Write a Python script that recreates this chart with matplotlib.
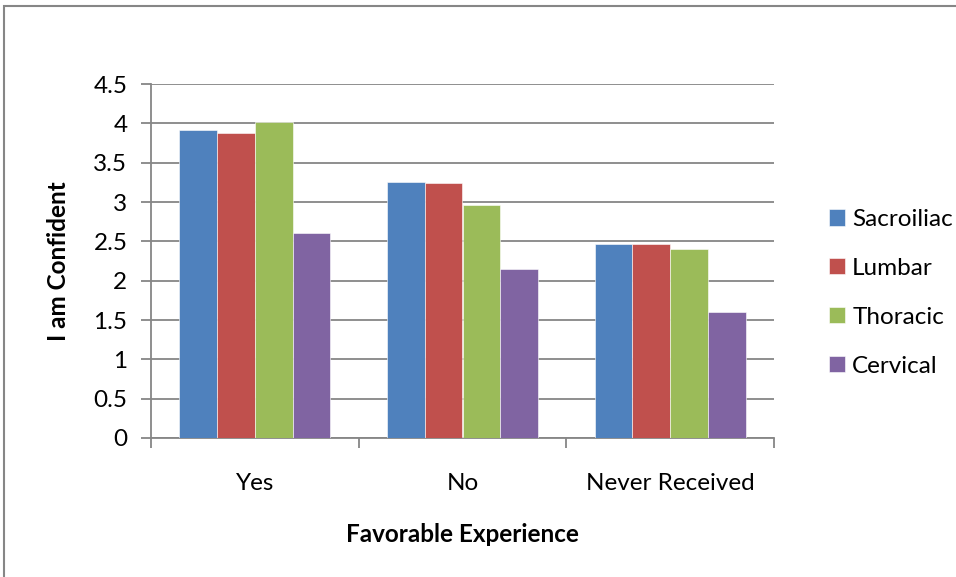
import matplotlib
matplotlib.use("Agg")
from matplotlib import pyplot as plt
from matplotlib.patches import Rectangle
import numpy as np

plt.rcParams['font.family'] = ['Lato', 'DejaVu Sans']

groups = ["Yes", "No", "Never Received"]
regions = ["Sacroiliac", "Lumbar", "Thoracic", "Cervical"]
sacroiliac = [3.92, 3.25, 2.46]
lumbar = [3.88, 3.24, 2.46]
thoracic = [4.02, 2.96, 2.40]
cervical = [2.61, 2.15, 1.60]
colors = ["#4F81BD", "#C0504D", "#9BBB59", "#8064A2"]

series = [sacroiliac, lumbar, thoracic, cervical]
grey = "#868686"
fs = 17.5

fig = plt.figure(figsize=(9.56, 5.77), dpi=100)
# chart frame, running off the right and bottom edges
fig.patches.append(Rectangle((4 / 956, -0.05), 1.1, 1 - 6 / 577 + 0.05,
                             transform=fig.transFigure, fill=False,
                             edgecolor=grey, linewidth=1.5))

ax = fig.add_axes([151 / 956, 1 - 438 / 577, (774 - 151) / 956, (438 - 84) / 577])

x = np.arange(len(groups))
width = 0.182
for i, (vals, name) in enumerate(zip(series, regions)):
    ax.bar(x + (i - 1.5) * width, vals, width, color=colors[i], label=name,
           edgecolor="white", linewidth=0.4, zorder=3)

ax.set_xlim(-0.5, len(groups) - 0.5)
ax.set_ylim(0, 4.5)
ax.set_yticks(np.arange(0, 4.51, 0.5))
ax.set_yticklabels(["0", "0.5", "1", "1.5", "2", "2.5", "3", "3.5", "4", "4.5"])
ax.yaxis.grid(True, color=grey, linewidth=1.3, zorder=0)
ax.set_axisbelow(True)

ax.set_xticks(x)
ax.set_xticklabels(groups)
ax.set_xticks(np.arange(-0.5, len(groups), 1), minor=True)
ax.tick_params(axis="x", which="major", length=0, pad=25, labelsize=fs)
ax.tick_params(axis="x", which="minor", length=7, color=grey, width=1.3, direction="out")
ax.tick_params(axis="y", length=7, color=grey, width=1.3, pad=10, labelsize=fs)

for side in ["top", "right"]:
    ax.spines[side].set_visible(False)
for side in ["left", "bottom"]:
    ax.spines[side].set_color(grey)
    ax.spines[side].set_linewidth(1.3)

ax.set_ylabel("I am Confident", fontsize=fs, fontweight="bold", labelpad=17)
ax.set_xlabel("Favorable Experience", fontsize=fs, fontweight="bold", labelpad=21)

ax.legend(loc="center left", bbox_to_anchor=(1.069, 0.41), frameon=False,
          fontsize=fs, handlelength=0.65, handleheight=0.65, borderpad=0,
          handletextpad=0.3, labelspacing=1.15)

fig.savefig("out.png", dpi=100)
